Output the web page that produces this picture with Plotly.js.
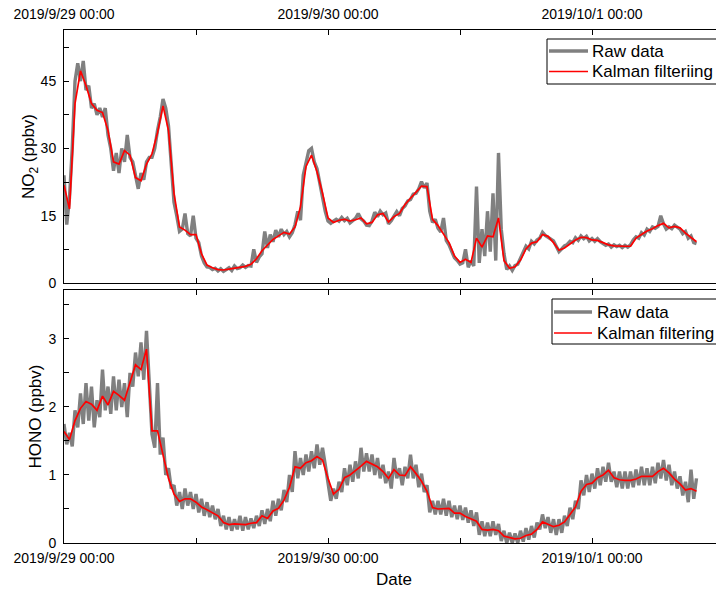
<!DOCTYPE html>
<html>
<head>
<meta charset="utf-8">
<script src="https://cdn.plot.ly/plotly-3.0.1.min.js"></script>
<style>
html, body { margin: 0; padding: 0; overflow: hidden; background: #fff; }
#chart { width: 740px; height: 592px; }
</style>
</head>
<body>
<div id="chart"></div>
<script>
// ---------- DATA ----------
const startTime = '2019-09-29T00:00:00Z';
const rawStepMin = 15;      // raw data sampling step (minutes)
const kalStepMin = 30;      // Kalman series sampling step (minutes)

const tickValues = ['2019-09-29 00:00', '2019-09-29 12:00', '2019-09-30 00:00', '2019-09-30 12:00', '2019-10-01 00:00', '2019-10-01 12:00'];
const tickLabels = ['2019/9/29 00:00', '', '2019/9/30 00:00', '', '2019/10/1 00:00', ''];

const no2Ticks = [0, 7.5, 15, 22.5, 30, 37.5, 45, 52.5];
const no2TickLabels = ['0', '', '15', '', '30', '', '45', ''];
const honoTicks = [0, 0.5, 1, 1.5, 2, 2.5, 3, 3.5];
const honoTickLabels = ['0', '', '1', '', '2', '', '3', ''];

const seriesNames = ['Raw data', 'Kalman filteriing', 'Raw data', 'Kalman filtering'];

const no2Raw = [
 24, 13, 19, 30,   45, 49, 45, 49.5,   43, 44, 39, 40,   37.5, 39, 37, 39,
 33, 30, 25, 29,   24.5, 30, 27, 33,   28, 27, 24, 21,   24.5, 23, 27, 28,
 28, 30, 34, 37,   41, 39, 35, 27,   18, 15, 11.5, 12,   15.5, 11, 10.5, 15,
 10, 9, 6, 4.5,   3.6, 3.5, 3.0, 3.3,   2.7, 3.2, 2.6, 3.0,   3.4, 2.8, 3.8, 3.2,
 3.4, 4.0, 3.5, 3.9,   3.8, 7.5, 4.6, 5.8,   6.5, 11.5, 7.8, 10.8,   9.2, 11.8, 10.3, 12,
 10.8, 11.5, 10.3, 11.2,   13, 16, 14, 24,   27, 29.5, 30, 27,   25.5, 22, 19.5, 16,
 13.8, 13.3, 13.8, 14.2,   13.8, 14.6, 13.9, 14.4,   13.4, 14.0, 14.4, 15.5,   14.3, 13.8, 12.9, 12.8,
 13.8, 15.8, 14.8, 16.0,   15.2, 15.6, 13.2, 13.9,   14.9, 15.9, 15.0, 16.6,   17.2, 18.3, 18.6, 19.8,
 20.0, 21.0, 22.6, 21.2,   22.3, 16, 13.5, 14.2,   12.2, 11.4, 14.5, 9.5,   8.5, 7.2, 5.6, 5.0,
 4.2, 4.5, 7.5, 3.5,   5.0, 3.8, 21.5, 4.5,   12, 6, 16, 7,   20, 5, 29, 12,
 6.5, 3.0, 3.8, 2.8,   3.9, 4.2, 5.5, 6.5,   8.2, 7.6, 9.3, 8.7,   9.6, 10.0, 11.3, 10.6,
 10.2, 9.6, 9.4, 8.2,   7.0, 7.6, 8.3, 8.6,   9.3, 9.0, 10.1, 9.5,   10.5, 9.9, 10.4, 9.4,
 9.9, 9.3, 9.9, 9.2,   8.8, 8.4, 8.7, 8.0,   8.5, 8.1, 8.4, 7.9,   8.4, 8.0, 8.5, 9.6,
 10.3, 10.0, 11.2, 10.7,   12.0, 11.5, 12.5, 12.2,   12.6, 15.0, 13.2, 12.0,   12.5, 12.1, 12.9, 12.4,
 12.0, 11.0, 11.5, 10.0,   10.5, 9.0, 8.8
];

const no2Kalman = [
 21.8, 16.5, 40, 47.3, 44, 40, 38.5, 38, 34, 27, 26.5, 29.5, 28.5, 23.5, 22.8, 26.5,
 28.8, 33.5, 39.5, 34, 20, 12.5, 11.8, 10.8, 10.8, 6.5, 4.0, 3.4, 3.0, 2.9, 3.1, 3.3,
 3.5, 3.7, 4.2, 5.4, 7.2, 8.5, 9.7, 10.5, 11.3, 10.9, 12.5, 17, 26, 28.5, 24.8, 20,
 14.5, 13.5, 14.0, 14.2, 13.8, 14.1, 14.5, 13.2, 13.5, 15.2, 15.5, 13.6, 14.8, 15.5, 17.5, 18.9,
 20.2, 21.6, 21.5, 14.2, 12.8, 11.0, 9.0, 6.0, 4.6, 5.3, 4.6, 10, 8, 10.5, 10.3, 14.5,
 5.0, 3.3, 3.6, 5.1, 7.6, 8.9, 9.2, 10.8, 10.4, 9.0, 7.3, 7.8, 8.8, 9.6, 10.2, 10.1,
 9.6, 9.5, 9.0, 8.5, 8.3, 8.2, 8.2, 8.2, 10.0, 10.8, 11.6, 12.1, 12.8, 13.3, 12.3, 12.6,
 12.3, 11.1, 10.2, 9.2
];

const honoRaw = [
 1.75, 1.45, 1.62, 1.42,   1.95, 1.70, 2.20, 1.75,   2.35, 1.80, 2.30, 1.70,   2.10, 1.85, 2.55, 1.95,
 2.30, 1.90, 2.45, 1.95,   2.40, 2.00, 2.35, 1.85,   2.50, 2.30, 2.80, 2.45,   2.95, 2.40, 3.12, 2.30,
 1.60, 1.40, 2.35, 1.30,   1.55, 1.00, 1.10, 0.80,   0.85, 0.55, 0.75, 0.50,   0.80, 0.55, 0.75, 0.50,
 0.72, 0.45, 0.65, 0.40,   0.60, 0.38, 0.55, 0.35,   0.50, 0.25, 0.40, 0.20,   0.38, 0.18, 0.35, 0.20,
 0.40, 0.18, 0.38, 0.20,   0.36, 0.22, 0.40, 0.25,   0.48, 0.28, 0.50, 0.32,   0.62, 0.40, 0.65, 0.48,
 0.78, 0.60, 1.00, 0.75,   1.35, 0.95, 1.25, 1.00,   1.30, 1.05, 1.35, 1.10,   1.45, 1.15, 1.40, 1.15,
 0.85, 0.62, 0.80, 0.65,   0.90, 0.75, 1.10, 0.85,   1.15, 0.90, 1.20, 0.95,   1.40, 1.05, 1.32, 1.05,
 1.30, 1.00, 1.25, 0.95,   1.15, 0.88, 1.05, 0.80,   1.25, 0.95, 1.10, 0.85,   1.12, 0.95, 1.30, 0.95,
 1.15, 0.82, 1.02, 0.75,   0.85, 0.45, 0.62, 0.42,   0.62, 0.42, 0.65, 0.40,   0.62, 0.38, 0.55, 0.35,
 0.55, 0.34, 0.52, 0.30,   0.48, 0.25, 0.45, 0.12,   0.32, 0.10, 0.30, 0.10,   0.32, 0.12, 0.28, 0.03,
 0.18, 0.00, 0.15, 0.00,   0.14, 0.00, 0.18, 0.02,   0.22, 0.05, 0.25, 0.08,   0.30, 0.20, 0.42, 0.22,
 0.38, 0.15, 0.35, 0.12,   0.35, 0.15, 0.40, 0.25,   0.52, 0.35, 0.62, 0.50,   0.92, 0.70, 1.00, 0.75,
 1.02, 0.80, 1.10, 0.85,   1.12, 0.90, 1.18, 0.90,   1.05, 0.82, 1.05, 0.80,   1.05, 0.80, 1.05, 0.82,
 1.08, 0.85, 1.12, 0.85,   1.10, 0.85, 1.12, 0.88,   1.18, 0.95, 1.22, 0.92,   1.15, 0.85, 1.05, 0.80,
 0.98, 0.70, 0.90, 0.60,   1.08, 0.65, 0.95
];

const honoKalman = [
 1.64, 1.52, 1.80, 1.98, 2.08, 2.04, 1.95, 2.16, 2.03, 2.23, 2.17, 2.10, 2.36, 2.62, 2.55, 2.85,
 1.65, 1.65, 1.30, 0.95, 0.72, 0.61, 0.65, 0.65, 0.60, 0.53, 0.49, 0.45, 0.40, 0.30, 0.27, 0.28,
 0.28, 0.27, 0.29, 0.30, 0.40, 0.36, 0.47, 0.51, 0.63, 0.82, 1.12, 1.10, 1.18, 1.21, 1.27, 1.22,
 0.95, 0.72, 0.79, 0.96, 1.00, 1.06, 1.13, 1.20, 1.16, 1.12, 1.05, 0.95, 1.08, 1.00, 0.99, 1.12,
 1.02, 0.91, 0.76, 0.52, 0.50, 0.50, 0.51, 0.44, 0.44, 0.39, 0.35, 0.32, 0.20, 0.19, 0.20, 0.18,
 0.10, 0.08, 0.06, 0.07, 0.11, 0.13, 0.20, 0.31, 0.28, 0.24, 0.26, 0.31, 0.42, 0.53, 0.76, 0.86,
 0.88, 0.96, 1.00, 1.07, 0.96, 0.93, 0.92, 0.92, 0.94, 0.98, 0.98, 0.98, 1.05, 1.10, 1.03, 0.94,
 0.87, 0.78, 0.80, 0.76
];

// ---------- BUILD ----------
function timeAxis(n, stepMin) {
  const t0 = Date.parse(startTime);
  const out = [];
  for (let i = 0; i < n; i++) {
    out.push(new Date(t0 + i * stepMin * 60000).toISOString().slice(0, 19).replace('T', ' '));
  }
  return out;
}

const FONT = 'Liberation Sans, Arial, sans-serif';
const GRAY = '#808080';
const RED = '#ff0000';
const RAW_W = 3.4;
const KAL_W = 1.7;

const traces = [
  { x: timeAxis(no2Raw.length, rawStepMin), y: no2Raw, type: 'scatter', mode: 'lines',
    name: seriesNames[0], line: { color: GRAY, width: RAW_W }, xaxis: 'x', yaxis: 'y', showlegend: false },
  { x: timeAxis(no2Kalman.length, kalStepMin), y: no2Kalman, type: 'scatter', mode: 'lines',
    name: seriesNames[1], line: { color: RED, width: KAL_W }, xaxis: 'x', yaxis: 'y', showlegend: false },
  { x: timeAxis(honoRaw.length, rawStepMin), y: honoRaw, type: 'scatter', mode: 'lines',
    name: seriesNames[2], line: { color: GRAY, width: RAW_W }, xaxis: 'x2', yaxis: 'y2', showlegend: false },
  { x: timeAxis(honoKalman.length, kalStepMin), y: honoKalman, type: 'scatter', mode: 'lines',
    name: seriesNames[3], line: { color: RED, width: KAL_W }, xaxis: 'x2', yaxis: 'y2', showlegend: false }
];

// layout geometry (pixels)
const W = 740, H = 592, ML = 64, MR = 16, MT = 30, MB = 49;
const PW = W - ML - MR, PH = H - MT - MB;
const px = v => (v - ML) / PW;
const py = v => 1 - (v - MT) / PH;

const xRange = ['2019-09-29 00:00', '2019-10-01 12:00'];
const commonX = {
  type: 'date', range: xRange, tickmode: 'array', tickvals: tickValues, ticktext: tickLabels,
  ticks: 'inside', ticklen: 5, tickwidth: 1, tickcolor: '#000',
  showline: true, linecolor: '#000', linewidth: 1, mirror: 'ticks',
  showgrid: false, zeroline: false,
  tickfont: { family: FONT, size: 14, color: '#000' }
};
const commonY = {
  tickmode: 'array', ticks: 'inside', ticklen: 5, tickwidth: 1, tickcolor: '#000',
  showline: true, linecolor: '#000', linewidth: 1, mirror: 'ticks',
  showgrid: false, zeroline: false, ticklabelstandoff: 4,
  tickfont: { family: FONT, size: 14, color: '#000' }
};

// custom legends (boxes, samples, texts)
function legendParts(box, rows) {
  const shapes = [{ type: 'rect', xref: 'paper', yref: 'paper',
    x0: px(box.x0), x1: px(box.x1), y0: py(box.y1), y1: py(box.y0),
    line: { color: '#000', width: 1 }, fillcolor: '#fff', layer: 'above' }];
  const anns = [];
  rows.forEach(r => {
    shapes.push({ type: 'line', xref: 'paper', yref: 'paper',
      x0: px(r.lx0), x1: px(r.lx1), y0: py(r.y), y1: py(r.y),
      line: { color: r.color, width: r.width }, layer: 'above' });
    anns.push({ xref: 'paper', yref: 'paper', x: px(r.tx), y: py(r.y), text: r.text,
      showarrow: false, xanchor: 'left', yanchor: 'middle', borderpad: 0,
      font: { family: FONT, size: 17, color: '#000' } });
  });
  return { shapes, anns };
}
const leg1 = legendParts({ x0: 547, x1: 730, y0: 39, y1: 84 }, [
  { y: 51, lx0: 549, lx1: 588, tx: 591, text: seriesNames[0], color: GRAY, width: RAW_W },
  { y: 71.5, lx0: 549, lx1: 588, tx: 591, text: seriesNames[1], color: RED, width: KAL_W }
]);
const leg2 = legendParts({ x0: 552, x1: 730, y0: 299, y1: 344 }, [
  { y: 312, lx0: 554, lx1: 592, tx: 596, text: seriesNames[2], color: GRAY, width: RAW_W },
  { y: 333, lx0: 554, lx1: 592, tx: 596, text: seriesNames[3], color: RED, width: KAL_W }
]);

const layout = {
  width: W, height: H,
  margin: { l: ML, r: MR, t: MT, b: MB },
  paper_bgcolor: '#fff', plot_bgcolor: '#fff',
  font: { family: FONT, color: '#000' },
  showlegend: false,
  xaxis: Object.assign({}, commonX, { anchor: 'y', side: 'top', ticklabelstandoff: 4 }),
  xaxis2: Object.assign({}, commonX, { anchor: 'y2', side: 'bottom', ticklabelstandoff: 2,
    title: { text: 'Date', font: { family: FONT, size: 17, color: '#000' }, standoff: 8 } }),
  yaxis: Object.assign({}, commonY, { domain: [0.5068, 1], range: [0, 56.4],
    tickvals: no2Ticks, ticktext: no2TickLabels,
    title: { text: 'NO<sub>2</sub> (ppbv)', font: { family: FONT, size: 17, color: '#000' }, standoff: 0 } }),
  yaxis2: Object.assign({}, commonY, { domain: [0, 0.4932], range: [0, 3.72],
    tickvals: honoTicks, ticktext: honoTickLabels,
    title: { text: 'HONO (ppbv)', font: { family: FONT, size: 17, color: '#000' }, standoff: 2 } }),
  shapes: leg1.shapes.concat(leg2.shapes),
  annotations: leg1.anns.concat(leg2.anns)
};

Plotly.newPlot('chart', traces, layout, { staticPlot: true, displayModeBar: false });
</script>
</body>
</html>
